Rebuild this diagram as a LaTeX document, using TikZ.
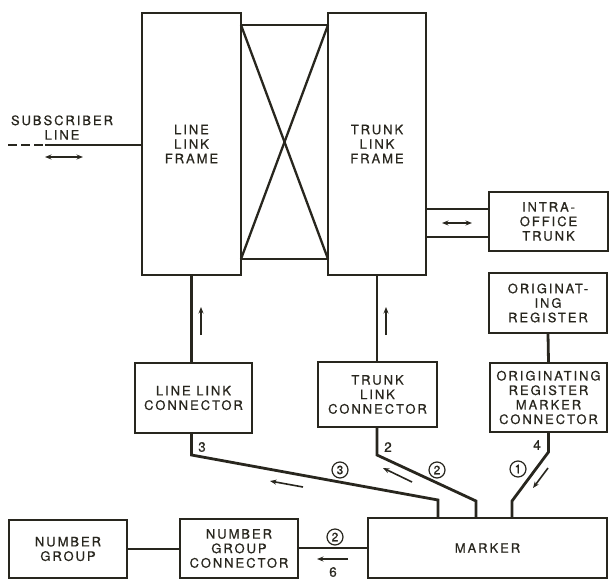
\documentclass[tikz,border=0pt]{standalone}
\usepackage{fontspec}
\setmainfont[LetterSpace=15,FakeBold=0.6]{TeX Gyre Heros}
\usetikzlibrary{arrows.meta,calc}
\definecolor{ink}{RGB}{40,38,30}
\tikzset{
  blk/.style={draw=ink, text=ink, line width=1.6pt, inner sep=0pt, align=center,
    font=\fontsize{13}{14.5}\selectfont},
  txt/.style={text=ink, inner sep=0pt, align=center, font=\fontsize{13}{14.5}\selectfont},
  wire/.style={draw=ink, line width=2.8pt},
  xbar/.style={draw=ink, line width=2.3pt},
  flow/.style={draw=ink, line width=1.6pt, -{Stealth[length=6.5pt,width=5pt]}},
  bidir/.style={draw=ink, line width=1.6pt, {Stealth[length=6.5pt,width=5pt]}-{Stealth[length=6.5pt,width=5pt]}},
  num/.style={text=ink, inner sep=0pt, font=\fontsize{13.5}{13.5}\selectfont},
  cnum/.style={draw=ink, text=ink, circle, line width=1.2pt, minimum size=16pt, inner sep=0pt,
    font=\fontsize{12}{12}\selectfont}
}
\begin{document}
\begin{tikzpicture}[x=1pt,y=-1pt]
\useasboundingbox (0,0) rectangle (609,580);
% frames
\node[blk, minimum width=99pt, minimum height=262pt] (llf) at (191.5,144) {LINE\\LINK\\FRAME};
\node[blk, minimum width=98pt, minimum height=262pt] (tlf) at (377,144) {TRUNK\\LINK\\FRAME};
% crossbar
\coordinate (xa) at (241,25); \coordinate (xb) at (328,25);
\coordinate (xc) at (241,259); \coordinate (xd) at (328,259);
\draw[xbar] (xa) -- (xb); \draw[xbar] (xc) -- (xd);
\draw[xbar] (xa) -- (xd); \draw[xbar] (xc) -- (xb);
% subscriber line
\coordinate (subend) at (8,145); \coordinate (subdash) at (45,145);
\draw[wire, dash pattern=on 9pt off 4pt] (subend) -- (subdash);
\draw[wire] (subdash) -- (llf.west |- subdash);
\node[txt] (sublbl) at (62,127.5) {SUBSCRIBER\\LINE};
\coordinate (sa) at (45,157); \coordinate (sb) at (83,157);
\draw[bidir] (sa) -- (sb);
% intra-office trunk
\node[blk, minimum width=119pt, minimum height=59pt] (iot) at (548.5,221.5) {INTRA-\\OFFICE\\TRUNK};
\coordinate (ia) at (0,209); \coordinate (ib) at (0,237);
\draw[wire] (tlf.east |- ia) -- (iot.west |- ia);
\draw[wire] (tlf.east |- ib) -- (iot.west |- ib);
\coordinate (ba) at (442,223); \coordinate (bb) at (472,223);
\draw[bidir] (ba) -- (bb);
% originating register
\node[blk, minimum width=118pt, minimum height=60pt] (orr) at (548,303) {ORIGINAT-\\ING\\REGISTER};
\node[blk, minimum width=117pt, minimum height=69pt] (ormc) at (548.5,397.5) {ORIGINATING\\REGISTER\\MARKER\\CONNECTOR};
\draw[wire] (orr.south) -- (ormc.north);
% connectors
\node[blk, minimum width=119pt, minimum height=65pt] (tlc) at (377.5,394.5) {TRUNK\\LINK\\CONNECTOR};
\node[blk, minimum width=117pt, minimum height=70pt] (llc) at (193.5,398) {LINE LINK\\CONNECTOR};
\draw[wire] (llf.south) -- (llf.south |- llc.north);
\draw[wire] (tlf.south) -- (tlf.south |- tlc.north);
\coordinate (u1a) at (201,335); \coordinate (u1b) at (201,307);
\draw[flow] (u1a) -- (u1b);
\coordinate (u2a) at (386,335); \coordinate (u2b) at (386,307);
\draw[flow] (u2a) -- (u2b);
% marker and number group
\node[blk, minimum width=239pt, minimum height=60pt] (marker) at (487.5,548) {MARKER};
\node[blk, minimum width=118pt, minimum height=59pt] (ngc) at (239,548.5) {NUMBER\\GROUP\\CONNECTOR};
\node[blk, minimum width=118pt, minimum height=58pt] (ng) at (68,549) {NUMBER\\GROUP};
\draw[wire] (ng.east) -- (ng.east -| ngc.west);
\draw[wire] (ngc.east |- marker.west) -- (marker.west);
% marker wires
\coordinate (w3a) at (191.5,455); \coordinate (w3b) at (438,500);
\draw[wire] (llf.south |- llc.south) -- (w3a) -- (w3b) -- (w3b |- marker.north);
\coordinate (w2a) at (377,455); \coordinate (w2b) at (476,501);
\draw[wire] (tlf.south |- tlc.south) -- (w2a) -- (w2b) -- (w2b |- marker.north);
\coordinate (w4a) at (548.5,452); \coordinate (w4b) at (512,501);
\draw[wire] (ormc.south) -- (w4a) -- (w4b) -- (w4b |- marker.north);
% labels
\node[num] (n3) at (202,447) {3};
\node[num] (n2) at (388,447) {2};
\node[num] (n4) at (537,445) {4};
\node[cnum] (c3) at (340,470) {3};
\node[cnum] (c2) at (437,470) {2};
\node[cnum] (c1) at (518,469) {1};
\coordinate (a3a) at (303,487); \coordinate (a3b) at (270,481);
\draw[flow] (a3a) -- (a3b);
\coordinate (a2a) at (412,482); \coordinate (a2b) at (383,468);
\draw[flow] (a2a) -- (a2b);
\coordinate (a1a) at (548,468); \coordinate (a1b) at (533,488);
\draw[flow] (a1a) -- (a1b);
\node[cnum] (cb2) at (335,537) {2};
\coordinate (a6a) at (348,559); \coordinate (a6b) at (317,559);
\draw[flow] (a6a) -- (a6b);
\node[num] (n6) at (333,572) {6};
\end{tikzpicture}
\end{document}
